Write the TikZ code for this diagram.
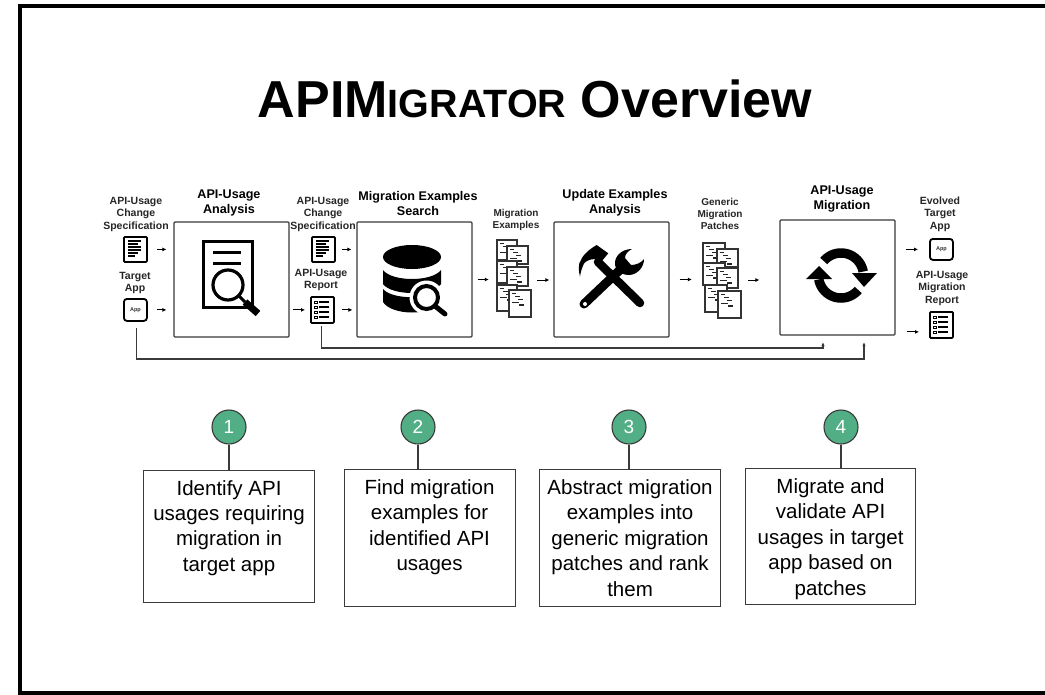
\documentclass[tikz,border=0pt]{standalone}
\usepackage{fontspec}
\setmainfont{Liberation Sans}
\usetikzlibrary{arrows.meta}
\definecolor{stepgreen}{HTML}{52AE85}
\definecolor{boxline}{HTML}{3A3A3A}
\tikzset{
  x=1pt,y=-1pt,
  toolbox/.style={draw=boxline,line width=1.2pt,rounded corners=1pt,fill=white,inner sep=0pt,minimum width=115pt,minimum height=115pt},
  iconbox/.style={draw=black,line width=1.8pt,rounded corners=1pt,fill=white,inner sep=0pt,minimum width=23pt},
  holder/.style={inner sep=0pt,minimum width=#1,minimum height=78pt},
  biglabel/.style={align=center,font=\fontsize{12.6}{15}\selectfont\bfseries,inner sep=0pt},
  smalllabel/.style={align=center,font=\fontsize{10.5}{12.5}\selectfont\bfseries,text=black!85,inner sep=0pt},
  steparrow/.style={draw=black,line width=0.9pt,-{Latex[length=4pt,width=4pt]}},
  longline/.style={draw=boxline,line width=1.1pt,-{Latex[length=4pt,width=3.5pt]}},
  stepdot/.style={circle,draw=boxline,line width=1.1pt,fill=stepgreen,text=white,minimum size=34pt,inner sep=0pt,font=\fontsize{19}{19}\selectfont},
  stepbox/.style={draw=boxline,line width=1.1pt,inner sep=0pt,anchor=north west},
  stepstem/.style={draw=boxline,line width=1.1pt},
}
\newcommand{\boxtext}[3]{\parbox[c][#2pt][t]{#1pt}{\centering\fontsize{20.5}{25.4}\selectfont\rule{0pt}{25pt}#3}}
\newcommand{\docicon}[3]{%
  \node[iconbox,minimum height=25pt,anchor=north west] (#1) at (#2,#3) {};
  \begin{scope}[shift={(#2,#3)}]
    \foreach \yy/\xa in {5/18,8/15,11/18,14/18,17/15,20/12}{\draw[line width=1.1pt] (5,\yy) -- (\xa,\yy);}
  \end{scope}}
\newcommand{\appicon}[4]{%
  \node[iconbox,rounded corners=3pt,minimum height=#4pt,anchor=north west,font=\fontsize{5.5}{6}\selectfont\bfseries,text=black!80] (#1) at (#2,#3) {App};}
\newcommand{\listicon}[3]{%
  \node[iconbox,minimum height=26pt,anchor=north west] (#1) at (#2,#3) {};
  \begin{scope}[shift={(#2,#3)}]
    \foreach \yy in {6,11,16,21}{
      \draw[line width=0.4pt] (4,\yy-1) rectangle (7,\yy+1);
      \draw[line width=1.1pt] (8.5,\yy) -- (19,\yy);}
  \end{scope}}
\newcommand{\codedoc}[4]{%
  \filldraw[draw=black!80,fill=white,line width=1.7pt] (#1,#2) rectangle (#1+#3,#2+#4);
  \begin{scope}[shift={(#1,#2)}]
    \foreach \xa/\yy/\ll in {3/3.5/4,6/6.5/5,9/9.5/5,3/12.5/7,10/15/5}{
      \draw[line width=1.1pt,black!85] (\xa,\yy) -- ++(\ll,0);}
  \end{scope}}
\begin{document}
\begin{tikzpicture}
\useasboundingbox (0,0) rectangle (1045,694);
\fill[white] (0,0) rectangle (1045,694);
% frame
\draw[line width=4pt] (1045,6) -- (20,6) -- (20,693) -- (1045,693);
% title
\node[anchor=base,inner sep=0pt,font=\fontsize{52}{52}\selectfont\bfseries] (title) at (535,117)
  {APIM{\fontsize{39.5}{40}\selectfont IGRATOR} Overview};

% main boxes
\node[toolbox] (boxA) at (231.5,279.5) {};
\node[toolbox] (boxB) at (414.5,279.5) {};
\node[toolbox] (boxC) at (611.5,279.5) {};
\node[toolbox] (boxD) at (837.5,277.5) {};

% box labels
\node[biglabel] (labA) at (229,203) {API-Usage\\Analysis};
\node[biglabel] (labB) at (418,203) {Migration Examples\\Search};
\node[biglabel] (labC) at (615,203) {Update Examples\\Analysis};
\node[biglabel] (labD) at (842,199) {API-Usage\\Migration};

% small icons
\docicon{specA}{123}{236}
\appicon{appA}{123}{298}{22}
\docicon{specB}{311}{236}
\listicon{repA}{310}{296}
\appicon{appB}{929}{238}{21}
\listicon{repB}{929}{311}

% small labels
\node[smalllabel] (labSpecA) at (136,214) {API-Usage\\Change\\Specification};
\node[smalllabel] (labApp) at (135,283) {Target\\App};
\node[smalllabel] (labSpecB) at (323,214) {API-Usage\\Change\\Specification};
\node[smalllabel] (labRep) at (321,280) {API-Usage\\Report};
\node[smalllabel,font=\fontsize{10}{12}\selectfont\bfseries] (labEx) at (516,220) {Migration\\Examples};
\node[smalllabel,font=\fontsize{10}{12}\selectfont\bfseries] (labPatch) at (720,214) {Generic\\Migration\\Patches};
\node[smalllabel] (labEvo) at (940,214) {Evolved\\Target\\App};
\node[smalllabel] (labMig) at (942,288) {API-Usage\\Migration\\Report};

% stacks of code documents
\node[holder=34pt] (stackA) at (514,280) {};
\codedoc{497}{240}{20}{20}
\codedoc{507}{246}{21}{18}
\codedoc{497}{261}{20}{22}
\codedoc{507}{267}{21}{19}
\codedoc{497}{285}{20}{26}
\codedoc{509}{290}{22}{27}
\node[holder=38pt] (stackB) at (722,280) {};
\codedoc{703}{243}{22}{20}
\codedoc{717}{249}{21}{18}
\codedoc{703}{263}{22}{22}
\codedoc{717}{268}{21}{20}
\codedoc{705}{285}{22}{27}
\codedoc{718}{291}{23}{27}

% icon: document search
\draw[line width=3pt,fill=white] (203,241) rectangle (252,307);
\draw[line width=3pt] (213,252) -- (241,252) (213,263) -- (241,263);
\draw[line width=3pt] (239,296) -- (245,302);
\draw[line width=7pt] (245,302) -- (258,313.5);
\filldraw[fill=white,line width=3.2pt] (228,285) circle (15pt);

% icon: database search
\fill (412,257) ellipse (29pt and 12pt);
\fill (383,270) .. controls (392,282) and (432,282) .. (441,270) -- (441,284) .. controls (432,296) and (392,296) .. (383,284) -- cycle;
\fill (383,289) .. controls (392,300) and (432,300) .. (441,289) -- (441,302) .. controls (432,316) and (392,316) .. (383,302) -- cycle;
\fill[white] (426.5,297.5) circle (17pt);
\fill[white] (441,285) rectangle (446,305);
\draw[line width=4pt] (426.5,297.5) circle (11.5pt);
\draw[line width=5pt,line cap=round] (435,306) -- (445,314);

% icon: hammer and wrench
\draw[line width=8.5pt,line cap=round] (598,262) -- (640,303);
\fill (596.7,245) -- (608.3,253.3) -- (600,263.3) -- (595,259) .. controls (589,259) and (584,262) .. (583.3,265) .. controls (581.5,269) and (580.5,273) .. (580,276.7) .. controls (578,270) and (579,262) .. (580,262) .. controls (582,256) and (588,250) .. (596.7,245) -- cycle;
\draw[line width=9pt,line cap=round] (584,304) -- (624,266);
\fill (632,249) .. controls (622,249) and (614,256) .. (615,265) .. controls (616,272) and (622,275) .. (630,275) .. controls (638,274) and (644,267) .. (644,259) .. controls (641,263) and (636,265) .. (631,265) -- (625,258) .. controls (625,254) and (628,251) .. (632,249) -- cycle;
\fill[white] (585,304) circle (2pt);

% icon: sync
\draw[line width=9.5pt] plot[smooth,domain=140:10,samples=25] ({841+22.5*cos(\x)},{275.5-22.5*sin(\x)});
\draw[line width=9.5pt] plot[smooth,domain=190:320,samples=25] ({841+22.5*cos(\x)},{275.5-22.5*sin(\x)});
\fill (852,273) -- (877,273) -- (864,287) -- cycle;
\fill (806,279) -- (832,279) -- (819,266) -- cycle;

% short arrows
\draw[steparrow,shorten <=9pt,shorten >=7pt] (specA.east) -- (specA.east -| boxA.west);
\draw[steparrow,shorten <=9pt,shorten >=7pt] (appA.east) -- (appA.east -| boxA.west);
\draw[steparrow,shorten <=3pt,shorten >=5pt] (repA.west -| boxA.east) -- (repA.west);
\draw[steparrow,shorten <=6pt,shorten >=5pt] (specB.east) -- (specB.east -| boxB.west);
\draw[steparrow,shorten <=7pt,shorten >=4pt] (repA.east) -- (repA.east -| boxB.west);
\draw[steparrow,shorten <=5pt,shorten >=8pt] (boxB.east) -- (boxB.east -| stackA.west);
\draw[steparrow,shorten <=6pt,shorten >=4pt] (stackA.east) -- (stackA.east -| boxC.west);
\draw[steparrow,shorten <=10pt,shorten >=11pt] (boxC.east) -- (boxC.east -| stackB.west);
\draw[steparrow,shorten <=7pt,shorten >=20pt] (stackB.east) -- (stackB.east -| boxD.west);
\draw[steparrow,shorten <=10pt,shorten >=11pt] (appB.west -| boxD.east) -- (appB.west);
\draw[steparrow,shorten <=11pt,shorten >=10pt] ([yshift=-7pt]repB.west -| boxD.east) -- ([yshift=-7pt]repB.west);

% long connectors
\coordinate (railA) at (0,348);
\coordinate (railB) at (0,359);
\draw[longline,shorten >=6.5pt] ([xshift=-0.5pt,yshift=-2pt]repA.south) -- ([xshift=-0.5pt]repA.south |- railA) -- ([xshift=-14.5pt]boxD.south |- railA) -- ([xshift=-14.5pt]boxD.south);
\draw[longline,shorten >=6.5pt] ([xshift=1.5pt,yshift=-6pt]appA.south) -- ([xshift=1.5pt]appA.south |- railB) -- ([xshift=26.5pt]boxD.south |- railB) -- ([xshift=26.5pt]boxD.south);

% step boxes
\node[stepbox] (stepA) at (143,469.5) {\boxtext{171}{132.5}{Identify API\\usages requiring\\migration in\\target app}};
\node[stepbox] (stepB) at (343.5,469) {\boxtext{171}{137}{Find migration\\examples for\\identified API\\usages}};
\node[stepbox] (stepC) at (539,469) {\boxtext{181}{137}{Abstract migration\\examples into\\generic migration\\patches and rank\\them}};
\node[stepbox] (stepD) at (745,468) {\boxtext{170}{136}{Migrate and\\validate API\\usages in target\\app based on\\patches}};

% step numbers
\node[stepdot] (dotA) at (229,427) {1};
\node[stepdot] (dotB) at (418,427) {2};
\node[stepdot] (dotC) at (629,427) {3};
\node[stepdot] (dotD) at (841,427) {4};
\draw[stepstem] (dotA.south) -- (dotA.south |- stepA.north);
\draw[stepstem] (dotB.south) -- (dotB.south |- stepB.north);
\draw[stepstem] (dotC.south) -- (dotC.south |- stepC.north);
\draw[stepstem] (dotD.south) -- (dotD.south |- stepD.north);
\end{tikzpicture}
\end{document}
